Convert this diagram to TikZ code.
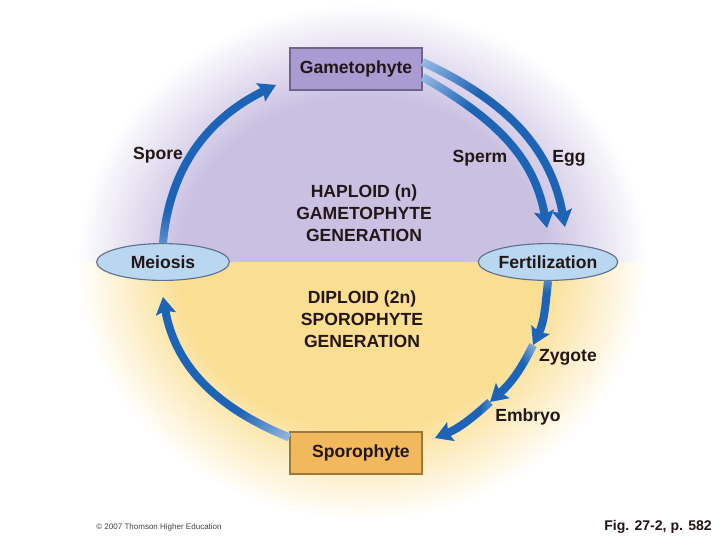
\documentclass[tikz,border=0pt]{standalone}
\usepackage{fontspec}
\setmainfont{Liberation Sans}
\usetikzlibrary{arrows.meta, positioning, calc, shapes.geometric, fadings}

\definecolor{lavfill}{RGB}{202,192,226}
\definecolor{yelfill}{RGB}{250,222,146}
\definecolor{gametofill}{RGB}{170,155,210}
\definecolor{sporofill}{RGB}{242,184,92}
\definecolor{eventfill}{RGB}{185,215,240}
\definecolor{eventline}{RGB}{95,112,140}
\definecolor{arrowblue}{RGB}{30,100,182}
\definecolor{arrowpale}{RGB}{175,205,238}
\definecolor{inkdark}{RGB}{35,22,22}

\pgfdeclareradialshading{lavdisk}{\pgfpoint{0bp}{0bp}}{color(0bp)=(lavfill); color(16bp)=(lavfill); color(25bp)=(white); color(100bp)=(white)}
\pgfdeclareradialshading{yeldisk}{\pgfpoint{0bp}{0bp}}{color(0bp)=(yelfill); color(16bp)=(yelfill); color(25bp)=(white); color(100bp)=(white)}

% start of each arrow is pale
\pgfdeclarehorizontalshading{arrowfadeshade}{100bp}{color(0bp)=(pgftransparent!100); color(12bp)=(pgftransparent!100); color(36bp)=(pgftransparent!0); color(100bp)=(pgftransparent!0)}
\pgfdeclarefading{arrowfade}{\pgfuseshading{arrowfadeshade}}

\newcommand{\cyclefont}{\bfseries\fontsize{12.5}{15.6}\selectfont}

\begin{document}
\begin{tikzpicture}[x=0.025cm, y=0.025cm,
    stagebox/.style={rectangle, draw=#1!65!black, fill=#1, line width=0.8pt,
      minimum width=3.3cm, minimum height=1.05cm, font=\cyclefont, text=inkdark},
    eventnode/.style={ellipse, draw=eventline, fill=eventfill, line width=0.8pt,
      minimum width=3.32cm, minimum height=0.92cm, inner sep=0pt, font=\cyclefont, text=inkdark},
    stagetxt/.style={font=\cyclefont, text=inkdark, align=center},
    cyclearrow/.style={draw=arrowblue, line width=5.7pt,
      -{Stealth[length=12pt, width=14pt, inset=2pt]}}]

    % page and margins
    \fill[white] (0,0) rectangle (720,540);
    \useasboundingbox (0,0) rectangle (720,540);

    % haploid half
    \begin{scope}
      \clip (0,278) rectangle (720,540);
      \shade[shading=lavdisk] (362,278) ellipse [x radius=285, y radius=258];
    \end{scope}
    % diploid half
    \begin{scope}
      \clip (0,0) rectangle (720,278);
      \shade[shading=yeldisk] (362,278) ellipse [x radius=285, y radius=258];
    \end{scope}

    % boxes and events
    \node[stagebox=gametofill] (gameto) at (356,471) {Gametophyte};
    \node[stagebox=sporofill] (sporo) at (356,87) {\hspace*{7pt}Sporophyte};
    \node[eventnode] (meiosis) at (163,278) {Meiosis};
    \node[eventnode] (fert) at (548,278) {Fertilization};

    % labels
    \node[stagetxt] (spore) at (158,385) {Spore};
    \node[stagetxt] (sperm) at (480,382) {Sperm};
    \node[stagetxt] (egg) at (569,382) {Egg};
    \node[stagetxt] (haploid) at (364,327) {HAPLOID (n)\\GAMETOPHYTE\\GENERATION};
    \node[stagetxt] (diploid) at (362,221) {DIPLOID (2n)\\SPOROPHYTE\\GENERATION};
    \node[stagetxt] (zygote) at (568,183) {Zygote};
    \node[stagetxt] (embryo) at (528,123) {Embryo};
    \node[font=\fontsize{5.7}{7}\selectfont, text=black!75] (copyright) at (159,13) {© 2007 Thomson Higher Education};
    \node[anchor=east, inner sep=0pt, font=\bfseries\fontsize{10}{12}\selectfont, text=inkdark] (figref) at (712,13) {Fig. 27-2, p. 582};

    % arrow ends
    \coordinate (spermfoot) at ($(gameto.east)+(0,-8)$);
    \coordinate (eggfoot) at ($(gameto.east)+(0,7)$);
    \coordinate (sporofoot) at ($(sporo.north west)+(0,-6)$);
    \coordinate (sporetip) at (276,455);
    \coordinate (spermtip) at (547,312);
    \coordinate (eggtip) at (565,313);
    \coordinate (zygtip) at (533,195);
    \coordinate (embtip) at (490,138);
    \coordinate (sporotip) at (435,102);
    \coordinate (meiotip) at (163,243);

    % cycle arrows: pale underlay, then faded blue
    \foreach \src/\dst/\o/\i/\fa in {meiosis.north/sporetip/85/-154/90,
        spermfoot/spermtip/-30/100/-45, eggfoot/eggtip/-25/100/-45,
        fert.south/zygtip/-96/64/-90, zygtip/embtip/-116/42/-135,
        embtip/sporotip/-138/22/180, sporofoot/meiotip/158/-80/135} {
      \draw[cyclearrow, draw=arrowpale] (\src) to[out=\o, in=\i] (\dst);
      \draw[cyclearrow, path fading=arrowfade, fading angle=\fa] (\src) to[out=\o, in=\i] (\dst);
    }
\end{tikzpicture}
\end{document}
